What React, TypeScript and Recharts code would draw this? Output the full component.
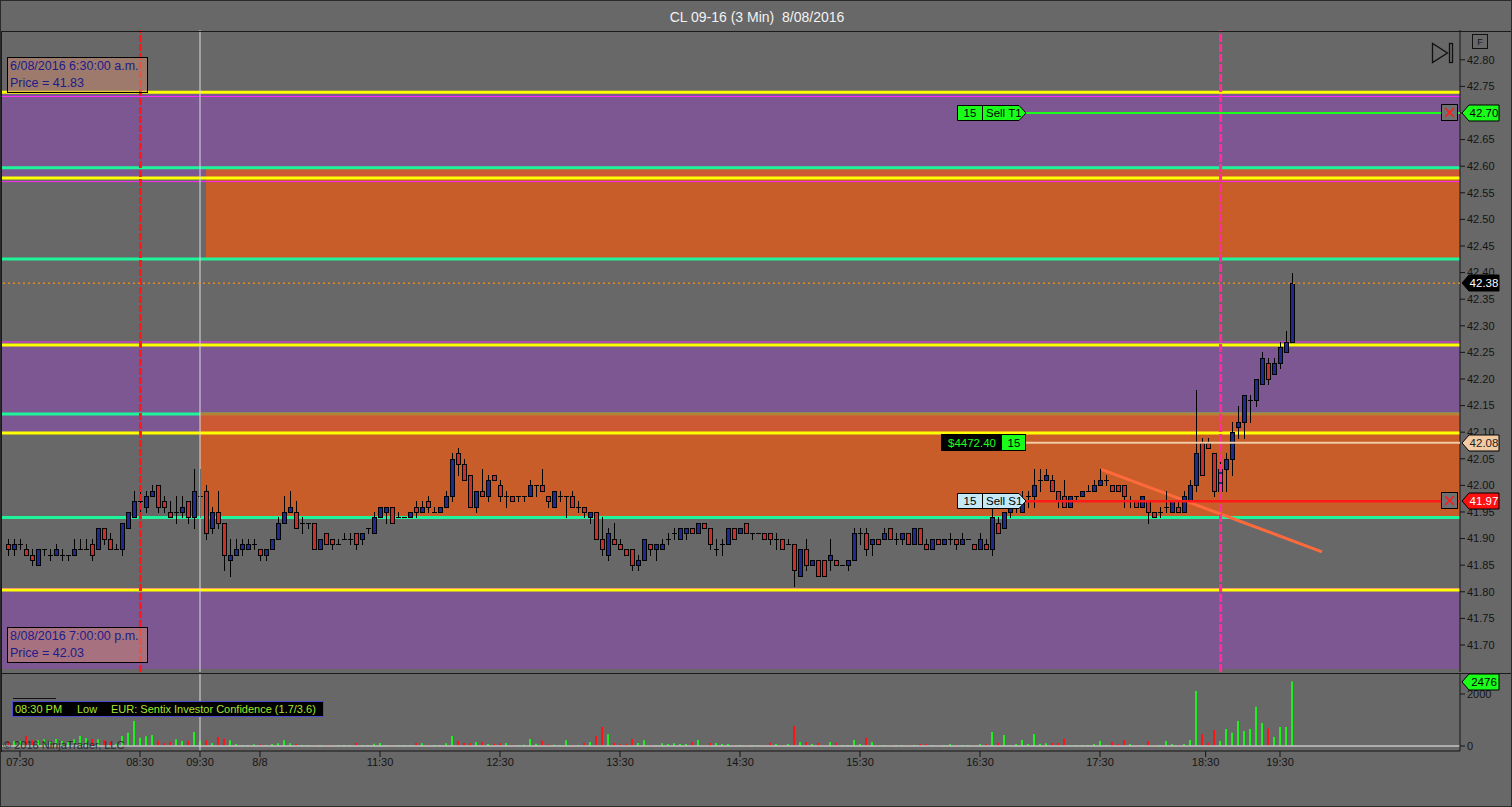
import React from 'react';
import { ComposedChart, Bar, Cell, XAxis, YAxis, ReferenceLine, ReferenceArea } from 'recharts';

// 3 min bars, [open, high, low, close]
const ohlc: [number, number, number, number][] = [
  [41.89, 41.90, 41.87, 41.88], [41.88, 41.90, 41.87, 41.89], [41.89, 41.90, 41.88, 41.89], [41.88, 41.89, 41.87, 41.87],
  [41.87, 41.88, 41.85, 41.86], [41.85, 41.88, 41.85, 41.88], [41.88, 41.88, 41.87, 41.88], [41.87, 41.88, 41.86, 41.87],
  [41.87, 41.89, 41.87, 41.88], [41.87, 41.88, 41.86, 41.87], [41.87, 41.87, 41.86, 41.87], [41.87, 41.90, 41.87, 41.88],
  [41.88, 41.90, 41.88, 41.88], [41.88, 41.90, 41.88, 41.88], [41.89, 41.90, 41.86, 41.87], [41.88, 41.92, 41.88, 41.92],
  [41.92, 41.92, 41.89, 41.90], [41.90, 41.91, 41.88, 41.88], [41.88, 41.89, 41.88, 41.88], [41.88, 41.93, 41.87, 41.93],
  [41.92, 41.95, 41.92, 41.95], [41.94, 41.99, 41.94, 41.97], [41.97, 41.99, 41.95, 41.97], [41.96, 41.99, 41.95, 41.98],
  [41.98, 42.00, 41.98, 41.99], [42.00, 42.00, 41.95, 41.96], [41.97, 41.98, 41.95, 41.96], [41.95, 41.97, 41.94, 41.94],
  [41.95, 41.98, 41.93, 41.95], [41.95, 41.98, 41.94, 41.96], [41.97, 41.97, 41.93, 41.94], [41.94, 42.03, 41.92, 41.99],
  [41.98, 42.03, 41.94, 41.98], [41.99, 42.00, 41.90, 41.91], [41.92, 41.96, 41.91, 41.95], [41.95, 41.99, 41.92, 41.93],
  [41.93, 41.93, 41.84, 41.87], [41.86, 41.90, 41.83, 41.87], [41.87, 41.90, 41.87, 41.88], [41.88, 41.90, 41.87, 41.89],
  [41.88, 41.90, 41.88, 41.89], [41.89, 41.90, 41.88, 41.89], [41.88, 41.88, 41.86, 41.87], [41.87, 41.88, 41.86, 41.88],
  [41.88, 41.90, 41.88, 41.90], [41.90, 41.94, 41.90, 41.93], [41.93, 41.98, 41.93, 41.95], [41.95, 41.99, 41.95, 41.96],
  [41.95, 41.97, 41.92, 41.92], [41.93, 41.94, 41.91, 41.93], [41.93, 41.93, 41.92, 41.93], [41.93, 41.93, 41.88, 41.88],
  [41.88, 41.90, 41.88, 41.90], [41.91, 41.91, 41.89, 41.89], [41.90, 41.90, 41.88, 41.89], [41.89, 41.90, 41.89, 41.89],
  [41.90, 41.91, 41.90, 41.90], [41.90, 41.91, 41.89, 41.90], [41.91, 41.91, 41.88, 41.89], [41.90, 41.91, 41.89, 41.91],
  [41.92, 41.92, 41.91, 41.92], [41.91, 41.95, 41.91, 41.94], [41.94, 41.96, 41.94, 41.96], [41.95, 41.96, 41.93, 41.96],
  [41.96, 41.96, 41.93, 41.93], [41.94, 41.95, 41.94, 41.94], [41.94, 41.94, 41.94, 41.94], [41.94, 41.95, 41.94, 41.95],
  [41.96, 41.97, 41.94, 41.95], [41.95, 41.97, 41.95, 41.96], [41.97, 41.98, 41.95, 41.96], [41.95, 41.96, 41.95, 41.95],
  [41.95, 41.96, 41.95, 41.96], [41.96, 41.99, 41.96, 41.98], [41.98, 42.06, 41.97, 42.05], [42.06, 42.07, 42.02, 42.04],
  [42.04, 42.05, 42.01, 42.01], [42.02, 42.02, 41.96, 41.96], [41.96, 41.99, 41.95, 41.99], [41.99, 42.03, 41.98, 41.98],
  [41.98, 42.02, 41.97, 42.01], [42.02, 42.02, 42.01, 42.01], [42.00, 42.01, 41.97, 41.98], [41.98, 41.99, 41.96, 41.98],
  [41.98, 41.98, 41.97, 41.97], [41.98, 41.98, 41.97, 41.98], [41.98, 41.98, 41.97, 41.98], [41.98, 42.01, 41.98, 42.00],
  [42.00, 42.00, 41.98, 42.00], [42.00, 42.03, 41.99, 41.99], [41.98, 41.98, 41.96, 41.97], [41.96, 41.99, 41.96, 41.99],
  [41.98, 41.99, 41.97, 41.98], [41.98, 41.98, 41.94, 41.98], [41.98, 41.99, 41.96, 41.96], [41.96, 41.97, 41.95, 41.96],
  [41.96, 41.96, 41.94, 41.95], [41.94, 41.95, 41.93, 41.95], [41.95, 41.95, 41.90, 41.90], [41.90, 41.94, 41.87, 41.88],
  [41.87, 41.92, 41.86, 41.91], [41.90, 41.93, 41.89, 41.89], [41.89, 41.90, 41.88, 41.88], [41.88, 41.88, 41.87, 41.87],
  [41.88, 41.88, 41.84, 41.85], [41.85, 41.87, 41.84, 41.86], [41.86, 41.90, 41.86, 41.90], [41.89, 41.89, 41.87, 41.88],
  [41.88, 41.89, 41.86, 41.89], [41.88, 41.90, 41.88, 41.89], [41.90, 41.91, 41.89, 41.90], [41.91, 41.92, 41.90, 41.91],
  [41.90, 41.92, 41.90, 41.92], [41.91, 41.92, 41.90, 41.92], [41.92, 41.92, 41.91, 41.91], [41.91, 41.93, 41.91, 41.93],
  [41.93, 41.93, 41.92, 41.92], [41.92, 41.92, 41.88, 41.89], [41.88, 41.90, 41.87, 41.88], [41.89, 41.90, 41.87, 41.89],
  [41.89, 41.92, 41.89, 41.92], [41.92, 41.92, 41.90, 41.90], [41.91, 41.92, 41.91, 41.92], [41.93, 41.93, 41.91, 41.91],
  [41.91, 41.91, 41.90, 41.91], [41.91, 41.91, 41.91, 41.91], [41.91, 41.91, 41.90, 41.90], [41.91, 41.91, 41.89, 41.90],
  [41.90, 41.91, 41.88, 41.90], [41.90, 41.90, 41.88, 41.88], [41.89, 41.90, 41.89, 41.89], [41.89, 41.89, 41.81, 41.84],
  [41.83, 41.88, 41.83, 41.88], [41.88, 41.90, 41.84, 41.85], [41.85, 41.86, 41.85, 41.86], [41.86, 41.86, 41.83, 41.83],
  [41.86, 41.86, 41.83, 41.83], [41.86, 41.90, 41.84, 41.87], [41.86, 41.86, 41.85, 41.85], [41.85, 41.85, 41.85, 41.85],
  [41.85, 41.86, 41.84, 41.86], [41.86, 41.92, 41.86, 41.91], [41.91, 41.92, 41.89, 41.91], [41.91, 41.92, 41.87, 41.88],
  [41.89, 41.90, 41.87, 41.90], [41.90, 41.90, 41.89, 41.89], [41.90, 41.92, 41.90, 41.91], [41.92, 41.92, 41.90, 41.90],
  [41.90, 41.91, 41.89, 41.90], [41.90, 41.91, 41.89, 41.91], [41.91, 41.91, 41.89, 41.89], [41.89, 41.92, 41.89, 41.92],
  [41.92, 41.92, 41.89, 41.89], [41.89, 41.90, 41.88, 41.88], [41.88, 41.90, 41.88, 41.90], [41.90, 41.90, 41.89, 41.89],
  [41.89, 41.90, 41.89, 41.90], [41.90, 41.91, 41.89, 41.90], [41.90, 41.90, 41.88, 41.89], [41.89, 41.91, 41.89, 41.90],
  [41.90, 41.90, 41.90, 41.90], [41.89, 41.89, 41.88, 41.88], [41.88, 41.91, 41.88, 41.90], [41.89, 41.90, 41.88, 41.88],
  [41.88, 41.96, 41.87, 41.94], [41.93, 41.94, 41.91, 41.91], [41.92, 41.95, 41.92, 41.95], [41.95, 41.97, 41.94, 41.96],
  [41.96, 41.97, 41.95, 41.96], [41.95, 41.99, 41.95, 41.97], [41.98, 41.99, 41.96, 41.98], [41.98, 42.03, 41.96, 42.00],
  [42.01, 42.03, 41.99, 42.01], [42.01, 42.03, 42.01, 42.02], [42.01, 42.02, 41.99, 41.99], [41.99, 41.99, 41.96, 41.97],
  [41.98, 42.01, 41.96, 41.96], [41.96, 41.98, 41.96, 41.98], [41.98, 41.98, 41.97, 41.98], [41.98, 41.99, 41.98, 41.99],
  [41.99, 42.00, 41.99, 41.99], [41.99, 42.01, 41.99, 42.00], [42.00, 42.03, 42.00, 42.01], [42.01, 42.02, 42.00, 42.01],
  [42.00, 42.00, 41.99, 41.99], [42.00, 42.00, 41.99, 41.99], [42.00, 42.00, 41.96, 41.98], [41.97, 41.98, 41.96, 41.97],
  [41.97, 41.97, 41.96, 41.96], [41.96, 41.98, 41.96, 41.98], [41.97, 41.97, 41.93, 41.95], [41.95, 41.95, 41.94, 41.94],
  [41.95, 41.96, 41.94, 41.95], [41.96, 41.99, 41.95, 41.96], [41.95, 41.97, 41.95, 41.97], [41.96, 41.97, 41.95, 41.95],
  [41.95, 41.99, 41.95, 41.98], [41.97, 42.01, 41.97, 42.00], [42.00, 42.18, 41.99, 42.06], [42.08, 42.09, 42.02, 42.02],
  [42.08, 42.09, 42.07, 42.07], [42.06, 42.06, 41.98, 41.99], [41.99, 42.05, 41.99, 42.03], [42.03, 42.06, 41.99, 42.05],
  [42.05, 42.12, 42.02, 42.10], [42.11, 42.15, 42.09, 42.12], [42.12, 42.17, 42.09, 42.17], [42.16, 42.17, 42.12, 42.16],
  [42.16, 42.20, 42.15, 42.20], [42.19, 42.25, 42.19, 42.24], [42.23, 42.24, 42.19, 42.20], [42.21, 42.24, 42.21, 42.23],
  [42.23, 42.27, 42.22, 42.26], [42.25, 42.29, 42.25, 42.27], [42.27, 42.40, 42.27, 42.38],
];

const volume = [
  180, 190, 190, 384, 218, 218, 256, 166, 269, 192,
  205, 256, 384, 307, 269, 256, 218, 166, 90, 384,
  512, 960, 320, 371, 422, 205, 102, 154, 256, 192,
  205, 538, 205, 218, 102, 346, 282, 218, 77, 38,
  38, 64, 64, 38, 77, 102, 218, 102, 77, 38,
  38, 38, 38, 26, 38, 38, 38, 38, 115, 38,
  38, 90, 115, 38, 38, 38, 30, 30, 115, 102,
  38, 38, 38, 102, 384, 192, 115, 102, 154, 154,
  77, 90, 102, 115, 38, 38, 50, 269, 90, 205,
  64, 51, 38, 218, 38, 38, 115, 154, 384, 730,
  448, 115, 64, 90, 269, 115, 218, 38, 38, 102,
  77, 102, 77, 77, 154, 230, 38, 115, 115, 77,
  77, 38, 38, 38, 38, 20, 38, 128, 77, 38,
  77, 768, 154, 154, 77, 115, 38, 154, 128, 38,
  38, 230, 77, 320, 154, 38, 38, 38, 38, 38,
  38, 38, 77, 77, 38, 20, 38, 77, 38, 38,
  38, 20, 77, 77, 538, 115, 422, 38, 77, 230,
  77, 460, 90, 102, 115, 115, 282, 20, 38, 38,
  38, 77, 192, 38, 154, 77, 230, 77, 38, 38,
  192, 38, 38, 192, 77, 38, 77, 230, 2112, 448,
  128, 614, 192, 653, 512, 960, 576, 653, 1510, 883,
  678, 346, 730, 730, 2476,
];

const timeTicks = [2, 22, 32, 42, 62, 82, 102, 122, 142, 162, 182, 199.6, 212];
const timeLabels = ['07:30', '08:30', '09:30', '8/8', '11:30', '12:30', '13:30', '14:30', '15:30', '16:30', '17:30', '18:30', '19:30'];
const priceTicks = [41.7, 41.75, 41.8, 41.85, 41.9, 41.95, 42.0, 42.05, 42.1, 42.15, 42.2, 42.25, 42.3, 42.35, 42.4, 42.45, 42.5, 42.55, 42.6, 42.65, 42.7, 42.75, 42.8];
const volumeTicks = [0, 2000];

// zones and levels drawn on the price panel
const purpleZones: [number, number][] = [[42.578, 42.739], [42.0985, 42.264], [41.655, 41.8034]];
const orangeZones: [number, number, number][] = [[33, 42.4256, 42.597], [32, 41.9397, 42.137]];
const yellowLevels = [42.739, 42.578, 42.264, 42.0985, 41.8034];
const greenLevels = [42.597, 42.4256, 41.9397];
const magentaLevels = [42.731, 42.571, 42.2695, 41.806];
const lowerBandEdge = 42.134;
const lastPrice = 42.38;
const targetPrice = 42.7;
const entryPrice = 42.08;
const stopPrice = 41.97;
const trendLine = [{ x: 182.2, y: 42.03 }, { x: 219, y: 41.875 }];

const X_DOMAIN: [number, number] = [-7 / 6, 242];
const ORDER_START = 169.67;

const UP = '#1f2a8e';
const DOWN = '#c8302c';
const VOL_UP = '#1ef01e';
const VOL_DOWN = '#ff1414';
const FONT = '"Liberation Sans", Arial, sans-serif';

const bars = ohlc.map(([o, h, l, c], i) => ({ i, o, h, l, c, range: [l, h], v: volume[i] }));

function Candle(props: any) {
  const { x, y, width, height, payload } = props;
  if (!payload || typeof x !== 'number' || typeof y !== 'number') return null;
  const { o, h, l, c } = payload;
  const cx = Math.round(x + width / 2);
  const k = h > l ? height / (h - l) : 0;
  const py = (p: number) => Math.round(y + (h - p) * k);
  const top = py(Math.max(o, c));
  const bot = py(Math.min(o, c));
  return (
    <g shapeRendering="crispEdges">
      <line x1={cx + 0.5} x2={cx + 0.5} y1={Math.round(y)} y2={Math.round(y + height) + 1} stroke="#000" />
      {o === c ? (
        <line x1={cx - 2} x2={cx + 3} y1={top + 0.5} y2={top + 0.5} stroke="#000" />
      ) : (
        <rect x={cx - 1.5} y={top + 0.5} width={4} height={bot - top} fill={c > o ? UP : DOWN} stroke="#000" />
      )}
    </g>
  );
}

function AxisTag({ viewBox, text, bg, fg }: any) {
  if (!viewBox) return null;
  const x = viewBox.x + viewBox.width + 2;
  const y = Math.round(viewBox.y);
  return (
    <g>
      <path d={`M${x},${y} L${x + 7},${y - 8} L${x + 37},${y - 8} L${x + 37},${y + 8} L${x + 7},${y + 8} Z`} fill={bg} stroke="#000" />
      <text x={x + 22} y={y + 4} textAnchor="middle" fill={fg} fontSize={11.5} fontFamily={FONT}>{text}</text>
    </g>
  );
}

function CloseBox({ x, y }: { x: number; y: number }) {
  return (
    <g>
      <rect x={x - 18.5} y={y - 8.5} width={16} height={16} fill="#707070" stroke="#000" />
      <line x1={x - 15} y1={y - 5} x2={x - 6} y2={y + 4} stroke="#ff1a1a" strokeWidth={1.6} />
      <line x1={x - 6} y1={y - 5} x2={x - 15} y2={y + 4} stroke="#ff1a1a" strokeWidth={1.6} />
    </g>
  );
}

function OrderLabel({ viewBox, qty, name, bg, tag, tagBg, tagFg }: any) {
  if (!viewBox) return null;
  const x = Math.round(viewBox.x);
  const y = Math.round(viewBox.y);
  const right = viewBox.x + viewBox.width;
  return (
    <g fontFamily={FONT} fontSize={11.5}>
      <path d={`M${x - 68.5},${y - 7.5} L${x - 7},${y - 7.5} L${x},${y} L${x - 7},${y + 7.5} L${x - 68.5},${y + 7.5} Z`} fill={bg} stroke="#000" />
      <line x1={x - 43.5} x2={x - 43.5} y1={y - 7.5} y2={y + 7.5} stroke="#000" />
      <text x={x - 56} y={y + 4} textAnchor="middle" fill="#000">{qty}</text>
      <text x={x - 40} y={y + 4} fill="#000">{name}</text>
      <CloseBox x={right} y={y} />
      <AxisTag viewBox={viewBox} text={tag} bg={tagBg} fg={tagFg} />
    </g>
  );
}

function PositionLabel({ viewBox }: any) {
  if (!viewBox) return null;
  const x = Math.round(viewBox.x);
  const y = Math.round(viewBox.y);
  return (
    <g fontFamily={FONT} fontSize={11.5}>
      <rect x={x - 84.5} y={y - 8.5} width={60} height={16} fill="#000" stroke="#000" />
      <rect x={x - 24.5} y={y - 8.5} width={24} height={16} fill="#1aff1a" stroke="#000" />
      <text x={x - 54} y={y + 4} textAnchor="middle" fill="#1aff1a">$4472.40</text>
      <text x={x - 12} y={y + 4} textAnchor="middle" fill="#000">15</text>
      <AxisTag viewBox={viewBox} text="42.08" bg="#f2cba4" fg="#222" />
    </g>
  );
}

const infoBox: React.CSSProperties = {
  position: 'absolute',
  left: 6,
  width: 137,
  height: 34,
  border: '1px solid #000',
  background: 'rgba(210,140,110,0.5)',
  color: '#1c1c8a',
  fontSize: 12.5,
  lineHeight: '17px',
  paddingLeft: 2,
  whiteSpace: 'nowrap',
};

// the 42.70 tick sits under the target tag, so its text is not shown
const priceTickText = (v: number) => (Math.abs(v - targetPrice) < 1e-6 ? '' : v.toFixed(2));

export default function App() {
  return (
    <div
      style={{
        position: 'fixed',
        left: 0,
        top: 0,
        width: 1512,
        height: 807,
        background: '#686868',
        overflow: 'hidden',
        fontFamily: FONT,
        boxSizing: 'border-box',
        border: '1px solid #2a2a2a',
      }}
    >
      <div style={{ position: 'absolute', top: 8, left: 0, width: 1512, textAlign: 'center', color: '#f2f2f2', fontSize: 14 }}>
        CL 09-16 (3 Min)&nbsp;&nbsp;8/08/2016
      </div>

      <div style={{ position: 'absolute', left: -1, top: -1 }}>
        <ComposedChart width={1512} height={673} data={bars} margin={{ top: 30, right: 0, bottom: 1, left: 1 }}>
          <XAxis type="number" dataKey="i" domain={X_DOMAIN} allowDataOverflow hide />
          <YAxis
            orientation="right"
            domain={[41.6492, 42.856]}
            allowDataOverflow
            ticks={priceTicks}
            width={52}
            tickSize={5}
            tickMargin={2}
            tickFormatter={priceTickText}
            tick={{ fill: '#141414', fontSize: 11 }}
            tickLine={{ stroke: '#141414' }}
            axisLine={{ stroke: '#141414' }}
          />
          {purpleZones.map(([lo, hi], k) => (
            <ReferenceArea key={`p${k}`} zIndex={10} x1={X_DOMAIN[0]} x2={X_DOMAIN[1]} y1={lo} y2={hi} fill="#7d5792" fillOpacity={1} stroke="none" ifOverflow="hidden" />
          ))}
          <ReferenceLine zIndex={15} y={lowerBandEdge} stroke="#1ef59a" strokeWidth={3} />
          {orangeZones.map(([from, lo, hi], k) => (
            <ReferenceArea key={`o${k}`} zIndex={20} x1={from} x2={X_DOMAIN[1]} y1={lo} y2={hi} fill="#e85a14" fillOpacity={0.75} stroke="none" />
          ))}
          {magentaLevels.map((p, k) => (
            <ReferenceLine key={`m${k}`} zIndex={30} y={p} stroke="#ff2aff" strokeWidth={1} />
          ))}
          {yellowLevels.map((p, k) => (
            <ReferenceLine key={`y${k}`} zIndex={31} y={p} stroke="#ffff00" strokeWidth={3} />
          ))}
          {greenLevels.map((p, k) => (
            <ReferenceLine key={`g${k}`} zIndex={32} y={p} stroke="#1ef59a" strokeWidth={3} />
          ))}
          <ReferenceLine zIndex={35} segment={trendLine} stroke="#ff6a3c" strokeWidth={3} />
          <Bar dataKey="range" shape={<Candle />} barSize={5} isAnimationActive={false} zIndex={300} />
          <ReferenceLine zIndex={400} x={32} stroke="#dcdcdc" strokeWidth={1} />
          <ReferenceLine zIndex={400} x={22.08} stroke="#ff1a1a" strokeWidth={3} strokeDasharray="7 2" />
          <ReferenceLine zIndex={400} x={202.1} stroke="#ff2d9b" strokeWidth={3} strokeDasharray="8 2" />
          <ReferenceLine
            zIndex={2500}
            y={lastPrice}
            stroke="#e8871e"
            strokeWidth={1.5}
            strokeDasharray="2 3"
            label={<AxisTag text="42.38" bg="#000" fg="#fff" />}
          />
          <ReferenceLine
            zIndex={2500}
            segment={[{ x: ORDER_START, y: targetPrice }, { x: X_DOMAIN[1], y: targetPrice }]}
            stroke="#1aff1a"
            strokeWidth={2}
            label={<OrderLabel qty="15" name="Sell T1" bg="#1aff1a" tag="42.70" tagBg="#1aff1a" tagFg="#000" />}
          />
          <ReferenceLine
            zIndex={2500}
            segment={[{ x: ORDER_START, y: entryPrice }, { x: X_DOMAIN[1], y: entryPrice }]}
            stroke="#f2cba4"
            strokeWidth={2}
            label={<PositionLabel />}
          />
          <ReferenceLine
            zIndex={2500}
            segment={[{ x: ORDER_START, y: stopPrice }, { x: X_DOMAIN[1], y: stopPrice }]}
            stroke="#ff1a1a"
            strokeWidth={2.5}
            label={<OrderLabel qty="15" name="Sell S1" bg="#c4e8f6" tag="41.97" tagBg="#ff1010" tagFg="#fff" />}
          />
        </ComposedChart>
      </div>

      <div style={{ position: 'absolute', left: -1, top: 672 }}>
        <ComposedChart width={1512} height={134} data={bars} margin={{ top: 1, right: 0, bottom: 26, left: 1 }}>
          <XAxis
            type="number"
            dataKey="i"
            domain={X_DOMAIN}
            allowDataOverflow
            ticks={timeTicks}
            tickFormatter={(v: number) => timeLabels[timeTicks.indexOf(v)] ?? ''}
            height={30}
            tickSize={6}
            tickMargin={1}
            tick={{ fill: '#141414', fontSize: 11 }}
            tickLine={{ stroke: '#141414' }}
            axisLine={{ stroke: '#141414' }}
          />
          <YAxis
            orientation="right"
            domain={[-192, 2769]}
            allowDataOverflow
            ticks={volumeTicks}
            width={52}
            tickSize={5}
            tickMargin={2}
            tick={{ fill: '#141414', fontSize: 11 }}
            tickLine={{ stroke: '#141414' }}
            axisLine={{ stroke: '#141414' }}
          />
          <ReferenceLine y={0} stroke="#c4c4c4" strokeWidth={1.5} />
          <Bar dataKey="v" barSize={2} isAnimationActive={false}>
            {bars.map((b, k) => (
              <Cell key={k} fill={b.c >= b.o ? VOL_UP : VOL_DOWN} />
            ))}
          </Bar>
          <ReferenceLine x={32} stroke="#dcdcdc" strokeWidth={1} />
          <ReferenceLine zIndex={2500} y={2476} stroke="none" label={<AxisTag text="2476" bg="#1aff1a" fg="#000" />} />
        </ComposedChart>
      </div>

      {/* panel frames */}
      <div style={{ position: 'absolute', left: 0, top: 30, width: 1512, height: 1, background: '#1a1a1a' }} />
      <div style={{ position: 'absolute', left: 0, top: 672, width: 1512, height: 1, background: '#1a1a1a' }} />
      <div style={{ position: 'absolute', left: 0, top: 30, width: 1, height: 721, background: '#1a1a1a' }} />

      <div style={{ ...infoBox, top: 56 }}>
        6/08/2016 6:30:00 a.m.
        <br />
        Price = 41.83
      </div>
      <div style={{ ...infoBox, top: 626 }}>
        8/08/2016 7:00:00 p.m.
        <br />
        Price = 42.03
      </div>

      <div style={{ position: 'absolute', left: 12, top: 697, width: 43, height: 1, background: '#111' }} />
      <div
        style={{
          position: 'absolute',
          left: 11,
          top: 700,
          width: 310,
          height: 14,
          background: '#000',
          border: '1px solid #4b4bd0',
          color: '#a8e62a',
          fontSize: 11,
          lineHeight: '14px',
          whiteSpace: 'pre',
        }}
      >
        <span style={{ position: 'absolute', left: 2 }}>08:30 PM</span>
        <span style={{ position: 'absolute', left: 64 }}>Low</span>
        <span style={{ position: 'absolute', left: 98 }}>EUR: Sentix Investor Confidence (1.7/3.6)</span>
      </div>
      <div style={{ position: 'absolute', left: 2, top: 738, color: '#2c2c2c', fontSize: 11 }}>© 2016 NinjaTrader, LLC</div>

      <svg style={{ position: 'absolute', left: 0, top: 0 }} width={1512} height={70}>
        <rect x={1471.5} y={33.5} width={15} height={14} fill="none" stroke="#111" />
        <text x={1479} y={44} textAnchor="middle" fontSize={9} fill="#111" fontFamily={FONT}>F</text>
        <path d="M1431.5,42.5 L1431.5,61.5 L1446.5,52 Z" fill="none" stroke="#111" strokeWidth={1.3} />
        <rect x={1448.5} y={42.5} width={3} height={19} fill="none" stroke="#111" strokeWidth={1.3} />
      </svg>
    </div>
  );
}
